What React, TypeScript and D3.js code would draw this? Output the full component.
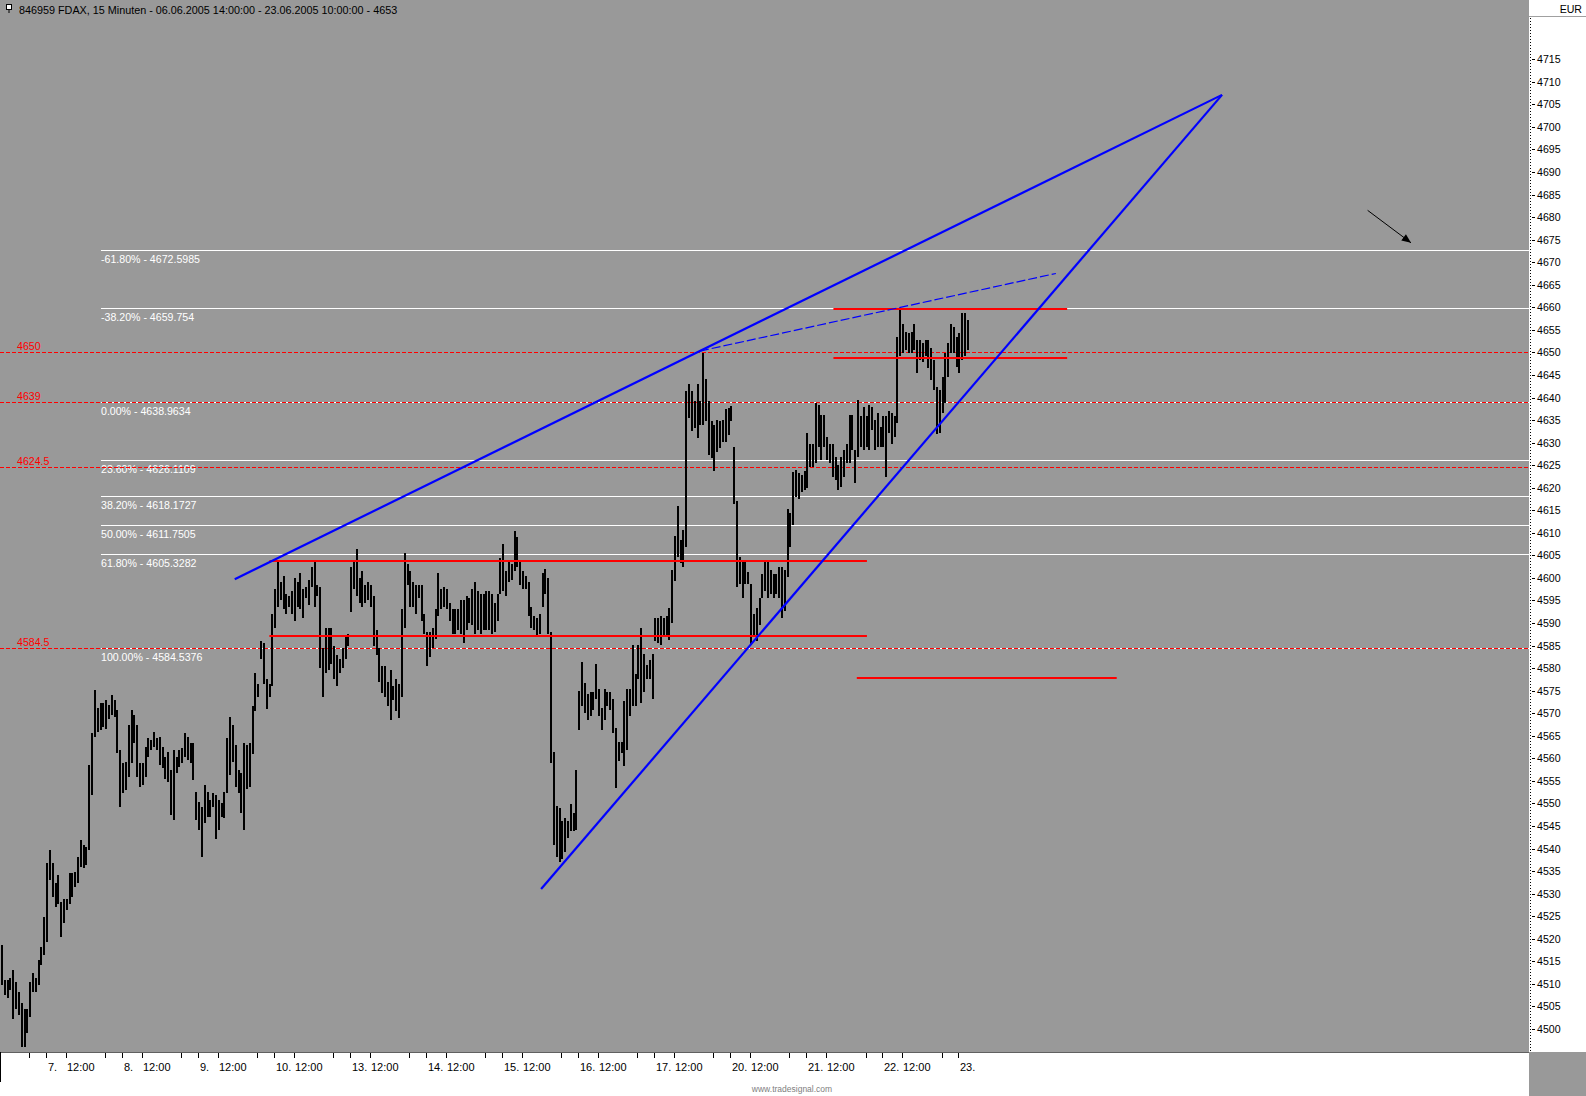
import React from "react";
import * as d3 from "d3";

// ---- data ----
const highs = [
  4518.6, 4510.8, 4510.8, 4511.2, 4513.0, 4510.5, 4508.2, 4505.7, 4504.5, 4504.5,
  4510.5, 4512.3, 4511.2, 4515.3, 4518.2, 4524.9, 4536.7, 4539.7, 4536.7, 4532.3,
  4534.1, 4528.2, 4528.9, 4528.9, 4534.5, 4534.5, 4534.9, 4538.2, 4541.9, 4540.8,
  4540.4, 4558.5, 4565.5, 4575.1, 4571.1, 4572.2, 4572.2, 4572.9, 4571.8, 4574.0,
  4572.9, 4570.7, 4561.8, 4558.9, 4559.2, 4567.4, 4570.7, 4569.6, 4567.4, 4558.9,
  4558.9, 4562.6, 4564.4, 4564.0, 4565.9, 4564.4, 4564.8, 4562.6, 4560.3, 4561.5,
  4557.4, 4561.8, 4560.3, 4561.8, 4562.2, 4565.5, 4564.8, 4563.3, 4563.3, 4552.6,
  4550.4, 4549.3, 4554.1, 4552.6, 4550.7, 4552.2, 4551.8, 4550.7, 4550.0, 4552.6,
  4564.4, 4569.2, 4567.4, 4562.9, 4557.4, 4556.7, 4563.3, 4562.9, 4563.3, 4571.5,
  4579.0, 4576.5, 4586.0, 4585.5, 4577.5, 4576.5, 4592.0, 4597.5, 4603.5, 4599.0,
  4600.5, 4596.5, 4596.0, 4597.0, 4600.0, 4599.0, 4601.0, 4597.5, 4598.0, 4599.5,
  4602.5, 4603.5, 4598.5, 4598.0, 4584.5, 4589.0, 4589.0, 4589.0, 4585.0, 4583.0,
  4582.0, 4584.5, 4587.0, 4587.5, 4602.5, 4604.0, 4606.5, 4600.0, 4601.5, 4598.5,
  4599.0, 4598.5, 4596.0, 4588.5, 4584.5, 4580.5, 4580.5, 4577.0, 4579.5, 4576.0,
  4577.5, 4576.5, 4593.0, 4605.5, 4603.0, 4601.5, 4599.0, 4598.5, 4598.5, 4598.5,
  4592.0, 4588.0, 4588.0, 4589.0, 4593.0, 4601.0, 4597.5, 4598.0, 4597.5, 4594.5,
  4593.0, 4593.0, 4593.0, 4595.0, 4595.0, 4596.0, 4595.5, 4597.5, 4599.0, 4597.0,
  4596.5, 4596.5, 4597.0, 4597.0, 4596.5, 4594.5, 4596.5, 4604.5, 4607.5, 4601.5,
  4603.5, 4603.0, 4610.5, 4609.0, 4604.0, 4601.5, 4600.5, 4599.0, 4593.5, 4591.5,
  4591.0, 4592.0, 4601.0, 4602.0, 4600.0, 4588.0, 4561.4, 4549.4, 4549.0, 4546.0,
  4546.8, 4546.0, 4549.8, 4547.9, 4557.3, 4575.0, 4581.4, 4576.8, 4574.2, 4574.6,
  4574.6, 4581.0, 4575.3, 4571.2, 4575.3, 4574.6, 4574.6, 4573.1, 4566.7, 4563.7,
  4563.7, 4572.7, 4575.3, 4575.3, 4585.1, 4578.7, 4585.1, 4588.9, 4583.2, 4580.6,
  4581.7, 4583.2, 4591.0, 4591.1, 4591.5, 4591.1, 4591.5, 4593.4, 4601.7, 4609.2,
  4615.9, 4608.4, 4610.7, 4641.5, 4643.0, 4641.5, 4639.2, 4643.0, 4639.2, 4649.8,
  4644.1, 4639.2, 4634.7, 4634.0, 4635.1, 4634.7, 4635.1, 4637.4, 4637.7, 4638.1,
  4629.1, 4617.1, 4604.7, 4603.9, 4603.9, 4601.3, 4598.6, 4591.9, 4593.4, 4595.6,
  4600.9, 4603.5, 4603.9, 4601.7, 4600.9, 4600.9, 4602.4, 4602.4, 4601.7, 4615.2,
  4614.4, 4623.5, 4624.0, 4623.2, 4622.8, 4623.6, 4632.1, 4629.8, 4629.8, 4638.7,
  4638.3, 4636.1, 4636.1, 4631.3, 4629.8, 4629.8, 4626.9, 4625.0, 4626.9, 4628.4,
  4629.8, 4636.1, 4636.1, 4628.4, 4639.5, 4635.8, 4638.0, 4635.8, 4638.3, 4638.0,
  4635.0, 4636.5, 4633.5, 4635.8, 4635.8, 4636.9, 4636.5, 4635.8, 4653.5, 4659.4,
  4656.4, 4654.6, 4654.2, 4654.6, 4656.4, 4652.8, 4652.8, 4652.0, 4652.8, 4652.8,
  4650.9, 4648.3, 4642.4, 4641.7, 4644.6, 4649.8, 4652.0, 4656.4, 4655.7, 4653.5,
  4654.2, 4658.7, 4658.7, 4657.2,
];
const lows = [
  4509.7, 4507.5, 4506.8, 4508.6, 4502.3, 4504.5, 4503.1, 4496.0, 4496.0, 4499.0,
  4502.7, 4508.2, 4508.2, 4509.7, 4514.2, 4516.4, 4519.3, 4533.0, 4529.3, 4527.1,
  4527.8, 4520.4, 4523.4, 4526.4, 4527.8, 4529.3, 4531.5, 4532.3, 4536.0, 4535.6,
  4536.3, 4539.7, 4551.8, 4564.8, 4565.9, 4566.3, 4567.0, 4566.6, 4568.8, 4569.6,
  4569.2, 4561.1, 4549.3, 4552.2, 4553.0, 4555.9, 4558.9, 4563.3, 4555.9, 4553.7,
  4554.1, 4555.9, 4560.3, 4561.8, 4562.6, 4561.8, 4558.5, 4557.8, 4555.5, 4554.8,
  4547.4, 4546.3, 4556.7, 4558.1, 4558.9, 4560.3, 4559.6, 4558.9, 4555.2, 4546.3,
  4544.1, 4538.2, 4545.6, 4547.0, 4547.0, 4549.3, 4542.2, 4544.1, 4547.0, 4546.7,
  4552.2, 4556.3, 4559.2, 4553.7, 4552.2, 4547.8, 4544.1, 4553.3, 4553.7, 4561.0,
  4570.5, 4573.5, 4582.0, 4576.5, 4571.0, 4573.5, 4576.0, 4589.0, 4593.5, 4595.0,
  4593.0, 4592.0, 4593.5, 4592.0, 4590.5, 4593.5, 4593.0, 4591.0, 4595.5, 4594.0,
  4598.0, 4593.5, 4596.0, 4580.0, 4573.5, 4579.0, 4579.5, 4581.0, 4577.5, 4576.0,
  4579.0, 4580.0, 4582.0, 4585.0, 4592.5, 4597.5, 4596.0, 4594.5, 4593.5, 4594.5,
  4595.0, 4593.5, 4585.0, 4583.0, 4577.0, 4574.5, 4573.5, 4571.5, 4568.5, 4573.0,
  4570.5, 4569.0, 4573.5, 4589.0, 4598.5, 4593.5, 4593.5, 4592.0, 4595.5, 4590.5,
  4587.5, 4580.5, 4582.5, 4584.5, 4586.5, 4591.5, 4593.0, 4593.5, 4593.0, 4590.5,
  4587.5, 4587.5, 4588.5, 4587.5, 4585.5, 4588.5, 4590.0, 4589.5, 4587.5, 4588.5,
  4587.5, 4588.5, 4588.5, 4588.5, 4587.5, 4588.0, 4590.5, 4596.5, 4597.0, 4596.0,
  4599.0, 4599.5, 4601.5, 4602.5, 4598.5, 4597.5, 4597.5, 4591.5, 4589.0, 4588.5,
  4587.0, 4587.5, 4593.5, 4596.5, 4587.5, 4559.0, 4540.8, 4538.1, 4537.0, 4537.7,
  4539.2, 4542.3, 4543.8, 4543.8, 4544.1, 4566.3, 4571.6, 4570.1, 4568.6, 4569.3,
  4570.8, 4573.1, 4569.3, 4566.3, 4568.6, 4571.6, 4570.8, 4565.6, 4553.5, 4559.5,
  4561.1, 4558.4, 4561.8, 4569.3, 4571.6, 4571.6, 4577.6, 4572.3, 4574.6, 4577.6,
  4577.6, 4573.1, 4586.0, 4585.5, 4585.1, 4587.4, 4587.4, 4586.2, 4590.0, 4599.4,
  4604.7, 4603.2, 4602.4, 4606.9, 4635.5, 4632.5, 4633.2, 4631.0, 4634.0, 4634.0,
  4634.7, 4627.2, 4626.5, 4623.8, 4628.0, 4628.7, 4630.2, 4630.2, 4631.7, 4634.7,
  4616.3, 4597.9, 4598.6, 4595.6, 4598.6, 4598.6, 4585.1, 4587.4, 4585.9, 4589.6,
  4595.6, 4597.1, 4595.6, 4596.4, 4595.6, 4596.4, 4595.6, 4591.1, 4592.6, 4600.2,
  4606.9, 4611.8, 4618.0, 4617.5, 4619.0, 4619.5, 4620.0, 4624.7, 4624.7, 4625.4,
  4629.1, 4626.1, 4629.1, 4626.1, 4625.4, 4622.4, 4621.7, 4619.5, 4620.2, 4622.4,
  4625.4, 4625.4, 4628.4, 4621.0, 4626.9, 4629.1, 4628.4, 4629.1, 4628.4, 4632.8,
  4628.4, 4629.1, 4629.1, 4629.1, 4622.4, 4632.1, 4629.8, 4631.3, 4634.3, 4649.1,
  4649.8, 4650.5, 4649.8, 4649.8, 4650.5, 4645.4, 4648.3, 4647.9, 4649.1, 4646.5,
  4643.9, 4641.7, 4632.0, 4632.1, 4636.5, 4638.7, 4644.6, 4649.8, 4649.8, 4646.8,
  4645.4, 4648.3, 4649.1, 4650.5,
];

const dayLabels = ["7.", "8.", "9.", "10.", "13.", "14.", "15.", "16.", "17.", "20.", "21.", "22.", "23."];
const noonLabel = "12:00";

const fibPct = ["-61.80%", "-38.20%", "0.00%", "23.60%", "38.20%", "50.00%", "61.80%", "100.00%"];
const fibVals = [4672.5985, 4659.754, 4638.9634, 4626.1109, 4618.1727, 4611.7505, 4605.3282, 4584.5376];

const levelVals = [4650, 4639, 4624.5, 4584.5];
const levelLabels = ["4650", "4639", "4624.5", "4584.5"];

// [fromBar, toBar, price]
const zoneLines = [
  [95.3, 307.5, 4603.8],
  [95.3, 307.5, 4587.1],
  [295.6, 378.6, 4659.7],
  [295.6, 378.6, 4648.8],
  [303.9, 396.2, 4577.9],
];
// [bar1, price1, bar2, price2]
const trendLines = [
  [83.0, 4599.7, 433.6, 4707.1],
  [191.8, 4531.0, 433.6, 4707.1],
];
const dashedTrend = [248.2, 4650.3, 374.6, 4667.5];
const arrowLine = [485.3, 4681.5, 500.7, 4674.3];

const axisTicks = d3.range(4500, 4716, 5);

const titleText = "846959  FDAX, 15 Minuten - 06.06.2005 14:00:00 - 23.06.2005 10:00:00 - 4653";

// ---- layout ----
const W = 1586;
const H = 1096;
const plotR = 1529;
const plotB = 1052;
const FONT = "'Liberation Sans', Arial, sans-serif";
const BG = "#999999";

export default function App() {
  const y = d3.scaleLinear().domain([4500, 4660]).range([1028.9, 307.3]);
  const x = d3.scaleLinear().domain([0, 343]).range([1, 966.9]);

  const barsPerDay = 27;
  const firstDay = 16;
  const dayTicks = dayLabels.map((l, k) => ({ l, i: firstDay + barsPerDay * k }));
  const noonTicks = dayLabels.slice(0, -1).map((_, k) => firstDay + barsPerDay * k + 7);
  const eveTicks = d3.range(0, 13).map((m) => 10 + barsPerDay * m);

  const a = arrowLine;
  const ax1 = x(a[0]), ay1 = y(a[1]), ax2 = x(a[2]), ay2 = y(a[3]);
  const ang = Math.atan2(ay2 - ay1, ax2 - ax1);
  const hl = 10;
  const head = [ang + Math.PI - 0.4, ang + Math.PI + 0.4].map((t) => [ax2 + hl * Math.cos(t), ay2 + hl * Math.sin(t)]);

  return (
    <svg width={W} height={H} style={{ position: "absolute", left: 0, top: 0, display: "block" }} fontFamily={FONT}>
      {/* plot background */}
      <rect x={0} y={0} width={plotR} height={plotB} fill={BG} />

      {/* title */}
      <rect x={6.5} y={4.5} width={5} height={5} fill="#fff" stroke="#000" />
      <line x1={9} y1={9.5} x2={9} y2={13} stroke="#000" />
      <text x={19} y={13.5} fontSize={10.8} fill="#000">{titleText}</text>

      {/* fib lines */}
      {fibVals.map((v, k) => (
        <g key={"f" + k}>
          <line x1={x(35.5)} x2={plotR} y1={Math.round(y(v)) + 0.5} y2={Math.round(y(v)) + 0.5} stroke="#fff" strokeWidth={1} />
          <text x={101} y={Math.round(y(v)) + 12.5} fontSize={10.6} fill="#fff">{`${fibPct[k]} - ${v}`}</text>
        </g>
      ))}

      {/* red dashed levels */}
      {levelVals.map((v, k) => (
        <g key={"l" + k}>
          <line x1={0} x2={plotR} y1={Math.round(y(v)) + 0.5} y2={Math.round(y(v)) + 0.5} stroke="#ff0000" strokeWidth={1} strokeDasharray="4,2" />
          <text x={17} y={Math.round(y(v)) - 2.5} fontSize={10.6} fill="#ff0000">{levelLabels[k]}</text>
        </g>
      ))}

      {/* price bars */}
      {highs.map((h, i) => {
        const top = Math.round(y(h));
        const bot = Math.round(y(lows[i]));
        return <rect key={"b" + i} x={Math.round(x(i))} y={top} width={2} height={Math.max(1, bot - top)} fill="#000" />;
      })}

      {/* red zone lines */}
      {zoneLines.map((z, k) => (
        <line key={"z" + k} x1={x(z[0])} x2={x(z[1])} y1={Math.round(y(z[2]))} y2={Math.round(y(z[2]))} stroke="#ff0000" strokeWidth={2} />
      ))}

      {/* blue trend lines */}
      {trendLines.map((t, k) => (
        <line key={"t" + k} x1={x(t[0])} y1={y(t[1])} x2={x(t[2])} y2={y(t[3])} stroke="#0000ff" strokeWidth={2.2} />
      ))}
      <line x1={x(dashedTrend[0])} y1={y(dashedTrend[1])} x2={x(dashedTrend[2])} y2={y(dashedTrend[3])} stroke="#0000ff" strokeWidth={1.2} strokeDasharray="9,3" />

      {/* arrow */}
      <line x1={ax1} y1={ay1} x2={ax2} y2={ay2} stroke="#000" strokeWidth={1} />
      <polygon points={`${ax2},${ay2} ${head[0][0]},${head[0][1]} ${head[1][0]},${head[1][1]}`} fill="#000" />

      {/* right axis */}
      <rect x={plotR} y={0} width={W - plotR} height={plotB} fill="#fff" />
      <line x1={plotR} x2={W} y1={16.5} y2={16.5} stroke="#a0a0a0" />
      <text x={1582} y={12.5} fontSize={10.6} textAnchor="end" fill="#000">EUR</text>
      <line x1={plotR + 1.5} x2={plotR + 1.5} y1={18} y2={plotB} stroke="#000" strokeDasharray="1,2" />
      {axisTicks.map((v) => (
        <g key={"a" + v}>
          <line x1={1532} x2={1535} y1={Math.round(y(v)) + 0.5} y2={Math.round(y(v)) + 0.5} stroke="#000" />
          <text x={1537} y={Math.round(y(v)) + 4} fontSize={10.6} fill="#000">{v}</text>
        </g>
      ))}

      {/* bottom axis */}
      <rect x={0} y={plotB} width={plotR} height={H - plotB} fill="#fff" />
      <rect x={plotR} y={plotB} width={W - plotR} height={H - plotB} fill={BG} />
      <line x1={0} x2={plotR} y1={plotB + 0.5} y2={plotB + 0.5} stroke="#606060" />
      <line x1={0.5} x2={0.5} y1={plotB} y2={1082} stroke="#000" />
      {eveTicks.map((i) => (
        <line key={"e" + i} x1={Math.round(x(i)) + 0.5} x2={Math.round(x(i)) + 0.5} y1={plotB + 1} y2={plotB + 6} stroke="#000" />
      ))}
      {dayTicks.map((d) => (
        <g key={"d" + d.i}>
          <line x1={Math.round(x(d.i)) + 0.5} x2={Math.round(x(d.i)) + 0.5} y1={plotB + 1} y2={plotB + 6} stroke="#000" />
          <text x={Math.round(x(d.i)) + 2} y={1071} fontSize={11} fill="#000">{d.l}</text>
        </g>
      ))}
      {noonTicks.map((i) => (
        <g key={"n" + i}>
          <line x1={Math.round(x(i)) + 0.5} x2={Math.round(x(i)) + 0.5} y1={plotB + 1} y2={plotB + 6} stroke="#000" />
          <text x={Math.round(x(i)) + 1} y={1071} fontSize={11} fill="#000">{noonLabel}</text>
        </g>
      ))}
      <text x={792} y={1092} fontSize={8.5} textAnchor="middle" fill="#808080">www.tradesignal.com</text>
    </svg>
  );
}
